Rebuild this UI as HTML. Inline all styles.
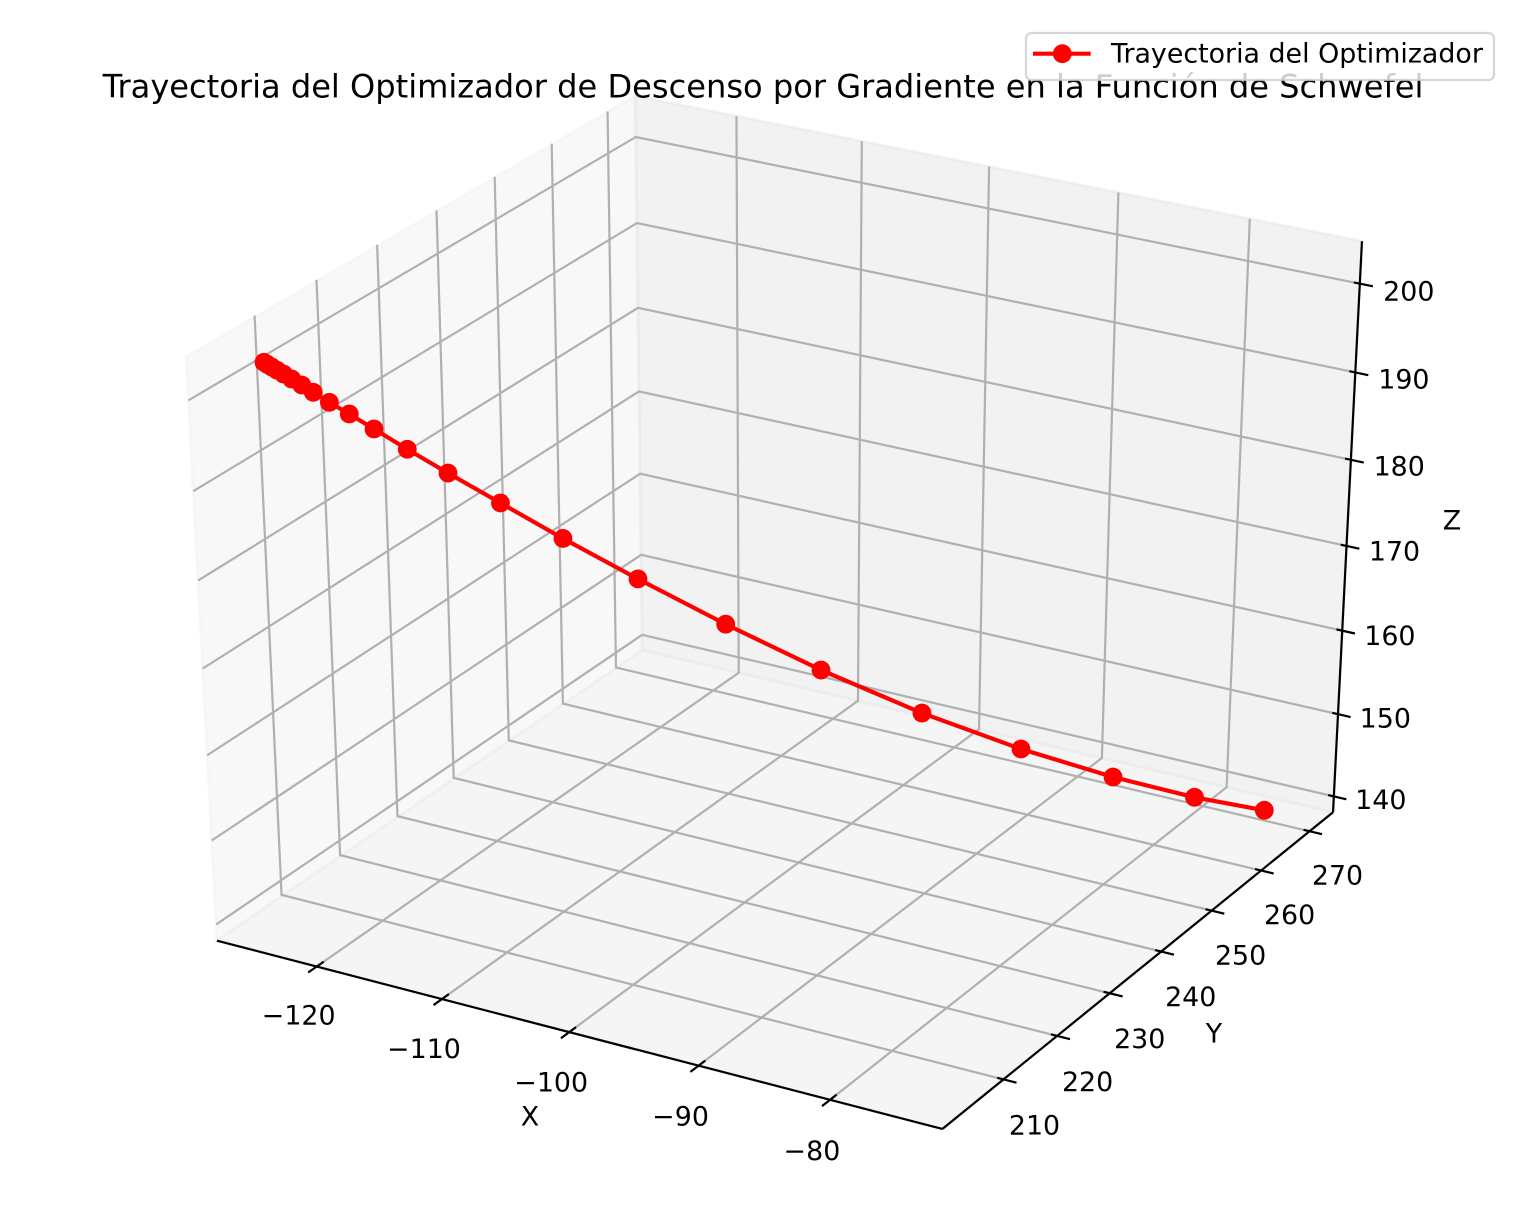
<!DOCTYPE html>
<html>
<head>
<meta charset="utf-8">
<title>Trayectoria del Optimizador</title>
<style>
html,body{margin:0;padding:0;background:#fff;}
svg{display:block;font-family:"DejaVu Sans","Liberation Sans",sans-serif;}
</style>
</head>
<body>
<svg id="chart" xmlns="http://www.w3.org/2000/svg" width="1526" height="1221" viewBox="0 0 1526 1221">
  <rect x="0" y="0" width="1526" height="1221" fill="#ffffff"/>
  <g id="panes"></g>
  <g id="grid"></g>
  <g id="axes"></g>
  <g id="ticks"></g>
  <g id="series"></g>
  <text x="530" y="1125.5" font-size="26.85" text-anchor="middle" fill="#000">X</text>
  <text x="1214" y="1042.5" font-size="26.85" text-anchor="middle" fill="#000">Y</text>
  <text x="1452" y="529.5" font-size="26.85" text-anchor="middle" fill="#000">Z</text>
  <text x="763" y="97.5" font-size="32.1" text-anchor="middle" fill="#000">Trayectoria del Optimizador de Descenso por Gradiente en la Función de Schwefel</text>
  <g>
    <rect x="1026" y="33" width="468" height="47" rx="5.5" ry="5.5" fill="#ffffff" fill-opacity="0.8" stroke="#cccccc" stroke-opacity="0.8" stroke-width="2.2"/>
    <line x1="1033" y1="53.7" x2="1090.7" y2="53.7" stroke="#ff0000" stroke-width="4.17"/>
    <circle cx="1062.3" cy="53.7" r="9.4" fill="#ff0000"/>
    <text x="1111" y="62.7" font-size="26.85" fill="#000">Trayectoria del Optimizador</text>
  </g>
</svg>
<script>
// ---- data ----
const xValues = [-124.55,-124.39,-124.21,-123.96,-123.66,-123.29,-122.83,-122.31,-121.57,-120.66,-119.52,-117.98,-116.08,-113.61,-110.64,-107.03,-102.75,-98.02,-92.94,-87.88,-83.12,-78.87,-75.20];
const yValues = [203.82,204.03,204.28,204.61,205.01,205.51,206.12,206.83,207.81,209.04,210.57,212.64,215.19,218.50,222.49,227.34,233.09,239.43,246.26,253.05,259.43,265.15,270.07];
const zValues = [203.24,202.97,202.66,202.25,201.76,201.13,200.37,199.45,198.18,196.69,194.77,192.16,189.06,185.12,180.39,174.89,168.60,162.06,155.67,150.06,145.43,141.83,139.26];
const xTicks = [-120,-110,-100,-90,-80];
const yTicks = [210,220,230,240,250,260,270];
const zTicks = [140,150,160,170,180,190,200];
const xDomain = [-127.11,-72.72];
const yDomain = [200.38,273.40];
const zDomain = [139.39,203.39];

// ---- projection (elev 30, azim -60, dist 10) ----
const NS = 'http://www.w3.org/2000/svg';
const CX = 783, CY = 594, SX = 8060, SY = 6395;
const PANE = 0.5 + 1 / 48;
function xAxis(v) { return (v - xDomain[0]) / (xDomain[1] - xDomain[0]) - 0.5; }
function yAxis(v) { return (v - yDomain[0]) / (yDomain[1] - yDomain[0]) - 0.5; }
function zAxis(v) { return (v - zDomain[0]) / (zDomain[1] - zDomain[0]) - 0.5; }
function project(a, b, c) {
  const cos30 = Math.sqrt(3) / 2;
  const ex = 0.5 * cos30, ey = -cos30 * cos30, ez = 0.5;
  const ux = cos30, uy = 0.5;
  const vx = -0.25, vy = 0.5 * cos30, vz = cos30;
  const h = a * ux + b * uy;
  const k = a * vx + b * vy + c * vz;
  const d = 10 - (a * ex + b * ey + c * ez);
  return [CX + SX * h / d, CY - SY * k / d];
}
function toPath(points) {
  return points.map(function (p, i) {
    const q = project(p[0], p[1], p[2]);
    return (i ? 'L' : 'M') + q[0].toFixed(2) + ' ' + q[1].toFixed(2);
  }).join(' ');
}
function shape(parent, tag, attrs) {
  const el = document.createElementNS(NS, tag);
  Object.keys(attrs).forEach(function (k) { el.setAttribute(k, attrs[k]); });
  parent.appendChild(el);
  return el;
}

const P = PANE;
const L = PANE - 0.003;  // left edge of the wall nearest the viewer
const B = PANE - 0.001;  // back corner of the box
const panes = document.getElementById('panes');
const grid = document.getElementById('grid');
const axes = document.getElementById('axes');
const ticks = document.getElementById('ticks');
const series = document.getElementById('series');

// ---- panes ----
const paneLeft = shape(panes, 'path', {d: toPath([[-L,-P,-P],[-B,P,-P],[-B,P,P],[-L,-P,P]]) + ' Z', fill: '#f2f2f2', 'fill-opacity': 0.5, stroke: '#f2f2f2', 'stroke-opacity': 0.5, 'stroke-width': 2.8});


const paneBack = shape(panes, 'path', {d: toPath([[-B,P,-P],[P,P,-P],[P,P,P],[-B,P,P]]) + ' Z', fill: '#e6e6e6', 'fill-opacity': 0.5, stroke: '#e6e6e6', 'stroke-opacity': 0.5, 'stroke-width': 2.8});


const paneFloor = shape(panes, 'path', {d: toPath([[-L,-P,-P],[P,-P,-P],[P,P,-P],[-B,P,-P]]) + ' Z', fill: '#ececec', 'fill-opacity': 0.5, stroke: '#ececec', 'stroke-opacity': 0.5, 'stroke-width': 2.8});



// ---- grid ----
const gridStyle = {fill: 'none', stroke: '#b0b0b0', 'stroke-width': 2.2};
xTicks.forEach(function (t) {
  const a = xAxis(t);
  const g = shape(grid, 'path', Object.assign({d: toPath([[a,-P,-P],[a,P,-P],[a,P,P]])}, gridStyle));
  
  
});
yTicks.forEach(function (t) {
  const b = yAxis(t);
  const g = shape(grid, 'path', Object.assign({d: toPath([[P,b,-P],[-P,b,-P],[-P,b,P]])}, gridStyle));
  
  
});
zTicks.forEach(function (t) {
  const c = zAxis(t);
  const g = shape(grid, 'path', Object.assign({d: toPath([[-L,-P,c],[-B,P,c],[P,P,c]])}, gridStyle));
  
  
});

// ---- axis lines ----
const axisStyle = {fill: 'none', stroke: '#000000', 'stroke-width': 2.2};
const axisX = shape(axes, 'path', Object.assign({d: toPath([[-L,-P,-P],[P,-P,-P]])}, axisStyle));


const axisY = shape(axes, 'path', Object.assign({d: toPath([[P,-P,-P],[P,P,-P]])}, axisStyle));


const axisZ = shape(axes, 'path', Object.assign({d: toPath([[P,P,-P],[P,P,P]])}, axisStyle));



// ---- ticks + labels ----
const tickStyle = {fill: 'none', stroke: '#000000', 'stroke-width': 2.2};
function label(parent, at, dx, dy, value) {
  const el = shape(parent, 'text', {x: (at[0] + dx).toFixed(1), y: (at[1] + dy).toFixed(1), 'font-size': 26.85, 'text-anchor': 'middle', fill: '#000'});
  el.textContent = String(value).replace('-', '\u2212');
  return el;
}
xTicks.forEach(function (t) {
  const a = xAxis(t);
  const m = shape(ticks, 'path', Object.assign({d: toPath([[a,-P-0.0195,-P],[a,-P+0.016,-P]])}, tickStyle));
  
  
  const l = label(ticks, project(a,-P,-P), -18, 59.2 + 2.7 * a, t);
  
  
});
yTicks.forEach(function (t) {
  const b = yAxis(t);
  const m = shape(ticks, 'path', Object.assign({d: toPath([[P-0.0086,b,-P],[P+0.018,b,-P]])}, tickStyle));
  
  
  const l = label(ticks, project(P,b,-P), 29.65 - 3.66 * b, 54.4 - 2.4 * b, t);
  
  
});
zTicks.forEach(function (t) {
  const c = zAxis(t);
  const m = shape(ticks, 'path', Object.assign({d: toPath([[P-0.0082,P,c],[P+0.018,P,c]])}, tickStyle));
  
  
  const l = label(ticks, project(P,P,c), 48 + 2.1 * c, 14.9 + 4.48 * c, t);
  
  
});

// ---- series ----
const pathPoints = xValues.map(function (v, i) {
  return [xAxis(v), yAxis(yValues[i]), zAxis(zValues[i])];
});
const seriesLine = shape(series, 'path', {d: toPath(pathPoints), fill: 'none', stroke: '#ff0000', 'stroke-width': 4.17, 'stroke-linejoin': 'round'});


pathPoints.forEach(function (p) {
  const q = project(p[0], p[1], p[2]);
  const dot = shape(series, 'circle', {cx: q[0].toFixed(2), cy: q[1].toFixed(2), r: 9.4, fill: '#ff0000'});
  
  
});
</script>
</body>
</html>
